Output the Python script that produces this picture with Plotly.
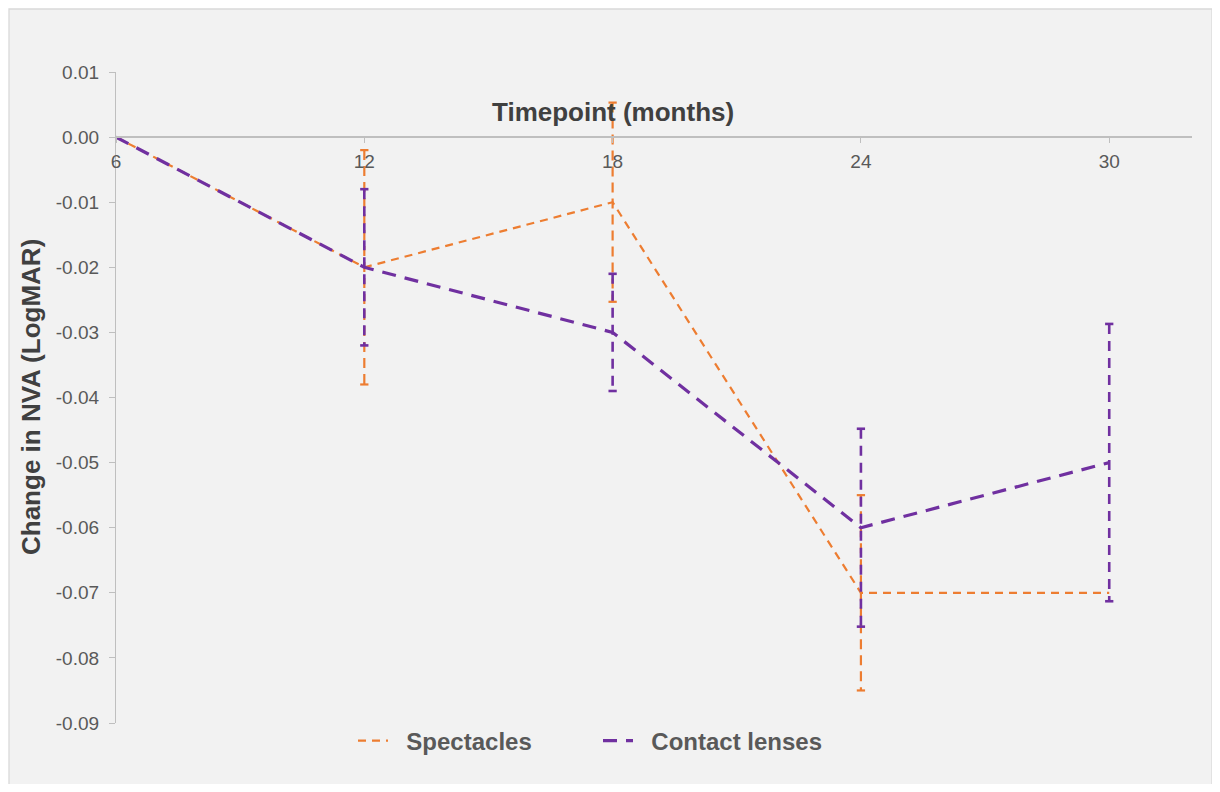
import plotly.graph_objects as go

timepoints = [6, 12, 18, 24, 30]
tick_labels = ["6", "12", "18", "24", "30"]
spectacles = [0.0, -0.02, -0.01, -0.07, -0.07]
spectacles_err = [0.0, 0.018, 0.0153, 0.015, 0.0]
contact = [0.0, -0.02, -0.03, -0.06, -0.05]
contact_err = [0.0, 0.012, 0.009, 0.0152, 0.0213]
y_ticks = [0.01, 0.0, -0.01, -0.02, -0.03, -0.04, -0.05, -0.06, -0.07, -0.08, -0.09]

ORANGE = "#ED7D31"
PURPLE = "#7030A0"
CAP = 0.1  # half-width of error-bar caps in months
FONT = "Liberation Sans, Arial"
NB = "\u00a0\u00a0"


def err_segments(xs, ys, es):
    sx, sy, cx, cy = [], [], [], []
    for x, y, e in zip(xs, ys, es):
        if e <= 0:
            continue
        sx += [x, x, None]
        sy += [y + e, y - e, None]
        for yy in (y + e, y - e):
            cx += [x - CAP, x + CAP, None]
            cy += [yy, yy, None]
    return sx, sy, cx, cy


fig = go.Figure()

for name, ys, es, color, lw, ew, dash, edash in [
    (NB + "<b>Spectacles</b>", spectacles, spectacles_err, ORANGE, 2.2, 2.2, "8px,6px", "10px,6px"),
    (NB + "<b>Contact lenses</b>", contact, contact_err, PURPLE, 3.2, 2.6, "14px,9px", "10px,7px"),
]:
    sx, sy, cx, cy = err_segments(timepoints, ys, es)
    fig.add_trace(go.Scatter(x=sx, y=sy, mode="lines", showlegend=False, hoverinfo="skip",
                             line=dict(color=color, width=ew, dash=edash)))
    fig.add_trace(go.Scatter(x=cx, y=cy, mode="lines", showlegend=False, hoverinfo="skip",
                             line=dict(color=color, width=ew)))
    fig.add_trace(go.Scatter(x=timepoints, y=ys, mode="lines", name=name,
                             line=dict(color=color, width=lw, dash=dash)))

OFF = 8  # browser body margin
W, H = 1220 - 2 * OFF, 792 - 2 * OFF
L, T = 116 - OFF, 72 - OFF
R = W - (1192 - OFF)
B = H - (723 - OFF)
pw, ph = W - L - R, H - T - B


def px_x(px):
    return (px - OFF - L) / pw


def px_y(py):
    return (H - B - (py - OFF)) / ph


fig.add_shape(type="rect", xref="paper", yref="paper", layer="below",
              x0=px_x(9), x1=px_x(1212), y0=px_y(786), y1=px_y(9),
              fillcolor="#F2F2F2", line=dict(color="#D9D9D9", width=1.3))

fig.add_annotation(text="<b>Timepoint (months)</b>", xref="paper", yref="paper",
                   x=px_x(613), y=px_y(112), showarrow=False,
                   xanchor="center", yanchor="middle",
                   font=dict(family=FONT, size=26, color="#404040"))

fig.add_annotation(text="<b>Change in NVA (LogMAR)</b>", xref="paper", yref="paper",
                   x=px_x(31), y=px_y(397), showarrow=False, textangle=-90,
                   xanchor="center", yanchor="middle",
                   font=dict(family=FONT, size=26, color="#404040"))

fig.update_layout(
    width=W, height=H,
    margin=dict(l=L, r=R, t=T, b=B, pad=0),
    paper_bgcolor="white",
    plot_bgcolor="rgba(0,0,0,0)",
    font=dict(family=FONT, color="#595959"),
    xaxis=dict(
        range=[6, 32], tickvals=timepoints, ticktext=tick_labels,
        anchor="free", position=0.9, showgrid=False, zeroline=False,
        showline=True, linecolor="#BFBFBF", linewidth=1.5,
        ticks="outside", ticklen=5, tickcolor="#BFBFBF",
        ticklabelstandoff=2,
        tickfont=dict(size=19, color="#595959"),
    ),
    yaxis=dict(
        range=[-0.09, 0.01], tickvals=y_ticks,
        ticktext=[f"{v:.2f}".replace("-0.00", "0.00") for v in y_ticks],
        showgrid=False, zeroline=False,
        showline=True, linecolor="#BFBFBF", linewidth=1.2,
        ticks="outside", ticklen=6, tickcolor="#BFBFBF",
        ticklabelstandoff=6,
        tickfont=dict(size=19, color="#595959"),
    ),
    legend=dict(orientation="h", x=px_x(598), y=px_y(741),
                xanchor="center", yanchor="middle", bgcolor="rgba(0,0,0,0)",
                font=dict(size=24, color="#595959"),
                entrywidth=200, entrywidthmode="pixels"),
    showlegend=True,
)

fig.write_html("out.html")
